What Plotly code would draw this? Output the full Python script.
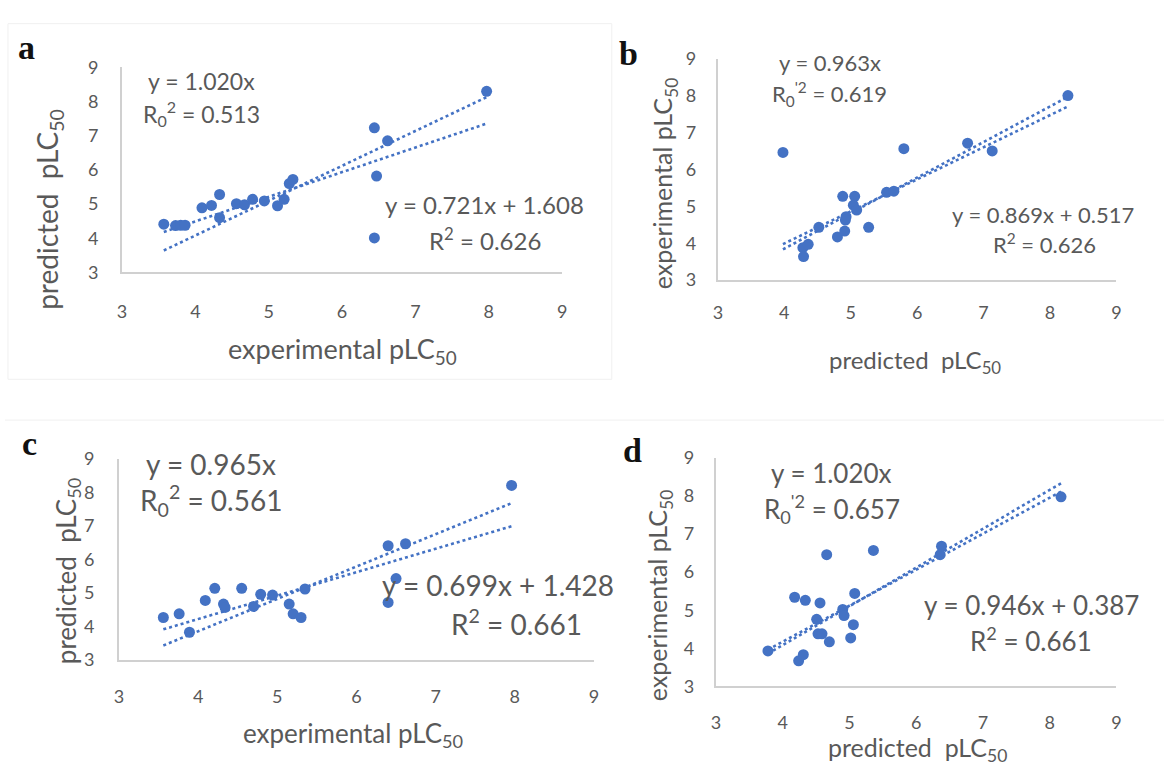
import plotly.graph_objects as go

W, H = 1169, 775

# ---------------- data ----------------
a_x = [3.57, 3.73, 3.80, 3.86, 4.09, 4.22, 4.33, 4.33, 4.56, 4.67, 4.78, 4.94, 5.12, 5.21, 5.28, 5.33, 6.44, 6.47, 6.62, 6.44, 7.97]
a_y = [4.41, 4.37, 4.38, 4.38, 4.89, 4.96, 5.28, 4.60, 5.01, 4.98, 5.14, 5.09, 4.95, 5.14, 5.60, 5.72, 7.23, 5.82, 6.85, 4.01, 8.30]

b_x = [3.98, 5.80, 6.76, 7.13, 8.27, 4.28, 4.36, 4.29, 4.52, 4.80, 4.91, 4.88, 5.06, 4.93, 4.92, 5.04, 5.09, 5.27, 5.54, 5.65]
b_y = [6.46, 6.56, 6.71, 6.50, 8.00, 3.88, 3.97, 3.64, 4.43, 4.17, 4.33, 5.27, 5.27, 4.72, 4.63, 5.03, 4.90, 4.43, 5.38, 5.41]

c_x = [3.56, 3.76, 3.89, 4.09, 4.21, 4.32, 4.34, 4.55, 4.70, 4.79, 4.94, 5.15, 5.20, 5.30, 5.35, 6.40, 6.62, 6.50, 6.40, 7.96]
c_y = [4.27, 4.38, 3.83, 4.78, 5.14, 4.67, 4.57, 5.14, 4.60, 4.96, 4.94, 4.67, 4.38, 4.27, 5.12, 6.41, 6.47, 5.43, 4.72, 8.21]

d_x = [3.78, 4.24, 4.31, 4.18, 4.34, 4.56, 4.51, 4.53, 4.59, 4.70, 4.66, 4.90, 4.92, 5.02, 5.06, 5.08, 5.36, 6.38, 6.36, 8.17]
d_y = [3.93, 3.67, 3.83, 5.34, 5.26, 5.19, 4.76, 4.38, 4.38, 4.17, 6.46, 5.02, 4.86, 4.27, 4.62, 5.44, 6.57, 6.68, 6.46, 7.98]

# trendline coefficients (slope, intercept) as printed on the chart
a_fit0, a_fit = (1.020, 0.0), (0.721, 1.608)
b_fit0, b_fit = (0.963, 0.0), (0.869, 0.517)
c_fit0, c_fit = (0.965, 0.0), (0.699, 1.428)
d_fit0, d_fit = (1.020, 0.0), (0.946, 0.387)

tick_vals = [3, 4, 5, 6, 7, 8, 9]

# ---------------- styling ----------------
BLUE = "#4472C4"
GRAY = "#595959"
AXIS = "#d0d0d0"
FONT = "Lato"

panels = [
    dict(x=a_x, y=a_y, f0=a_fit0, f=a_fit, box=(118, 562, 57, 268), xs=22, ys=18),
    dict(x=b_x, y=b_y, f0=b_fit0, f=b_fit, box=(719, 1121, 48, 276), xs=15, ys=16),
    dict(x=c_x, y=c_y, f0=c_fit0, f=c_fit, box=(115, 594, 460, 667), xs=19, ys=19),
    dict(x=d_x, y=d_y, f0=d_fit0, f=d_fit, box=(717, 1121, 459, 694), xs=19, ys=16),
]

fig = go.Figure()
layout = dict()

for i, p in enumerate(panels, start=1):
    xa = "x" if i == 1 else f"x{i}"
    ya = "y" if i == 1 else f"y{i}"
    l, r, t, b = p["box"]
    xmin, xmax = min(p["x"]), max(p["x"])
    for (m, c) in (p["f0"], p["f"]):
        fig.add_trace(go.Scatter(
            x=[xmin, xmax], y=[m * xmin + c, m * xmax + c], mode="lines",
            line=dict(color=BLUE, width=2.6, dash="dot"),
            xaxis=xa, yaxis=ya, showlegend=False, hoverinfo="skip"))
    fig.add_trace(go.Scatter(
        x=p["x"], y=p["y"], mode="markers",
        marker=dict(color=BLUE, size=11),
        xaxis=xa, yaxis=ya, showlegend=False))
    common = dict(range=[3, 9], tickvals=tick_vals, showgrid=False, zeroline=False,
                  showline=True, linecolor=AXIS, linewidth=2, ticks="",
                  tickfont=dict(family=FONT, size=18, color=GRAY))
    layout["xaxis" if i == 1 else f"xaxis{i}"] = dict(
        domain=[l / W, r / W], anchor=ya, ticklabelstandoff=p["xs"], **common)
    layout["yaxis" if i == 1 else f"yaxis{i}"] = dict(
        domain=[1 - b / H, 1 - t / H], anchor=xa, ticklabelstandoff=p["ys"], **common)

fig.update_layout(**layout)


def ann(text, px, py, size, color=GRAY, family=FONT, angle=0, bold=False):
    if bold:
        text = f"<b>{text}</b>"
    fig.add_annotation(text=text, x=px / W, y=1 - py / H, xref="paper", yref="paper",
                       showarrow=False, xanchor="center", yanchor="middle",
                       textangle=angle, font=dict(family=family, size=size, color=color))


SUB = "pLC<sub>50</sub>"
# panel letters
ann("a", 22, 37, 34, color="#111111", family="Liberation Serif", bold=True)
ann("b", 629, 43, 34, color="#111111", family="Liberation Serif", bold=True)
ann("c", 25, 444, 34, color="#111111", family="Liberation Serif", bold=True)
ann("d", 633, 451, 34, color="#111111", family="Liberation Serif", bold=True)

# axis titles
ann("predicted  " + SUB, 45, 203, 28, angle=-90)
ann("experimental " + SUB, 340, 348, 27)
ann("experimental " + SUB, 665, 176, 25, angle=-90)
ann("predicted  " + SUB, 918, 360, 24)
ann("predicted  " + SUB, 63, 575, 26, angle=-90)
ann("experimental " + SUB, 351, 744, 26)
ann("experimental " + SUB, 660, 600, 25, angle=-90)
ann("predicted  " + SUB, 920, 759, 25)

# equations
ann("y = 1.020x", 198, 71, 23)
ann("R<sub>0</sub><sup>2</sup> = 0.513", 198, 104, 23)
ann("y = 0.721x + 1.608", 484, 198, 24)
ann("R<sup>2</sup> = 0.626", 484, 234, 24)

ann("y = 0.963x", 832, 52, 22)
ann("R<sub>0</sub><sup>'2</sup> = 0.619", 832, 84, 22)
ann("y = 0.869x + 0.517", 1047, 208, 22)
ann("R<sup>2</sup> = 0.626", 1048, 238, 22)

ann("y = 0.965x", 208, 465, 28)
ann("R<sub>0</sub><sup>2</sup> = 0.561", 208, 503, 28)
ann("y = 0.699x + 1.428", 497, 590, 28)
ann("R<sup>2</sup> = 0.661", 516, 628, 28)

ann("y = 1.020x", 834, 474, 26)
ann("R<sub>0</sub><sup>'2</sup> = 0.657", 834, 512, 26)
ann("y = 0.946x + 0.387", 1035, 610, 26)
ann("R<sup>2</sup> = 0.661", 1035, 646, 26)

# faint chart-area borders from the source composite
fig.add_shape(type="rect", xref="paper", yref="paper", x0=3 / W, x1=612 / W,
              y0=1 - 378 / H, y1=1 - 12 / H, line=dict(color="#f0f0f0", width=1))
fig.add_shape(type="line", xref="paper", yref="paper", x0=0, x1=1,
              y0=1 - 420 / H, y1=1 - 420 / H, line=dict(color="#f0f0f0", width=1))

fig.update_layout(width=W, height=H, margin=dict(l=0, r=0, t=0, b=0),
                  paper_bgcolor="white", plot_bgcolor="white",
                  font=dict(family=FONT, color=GRAY))

fig.write_html("out.html")
